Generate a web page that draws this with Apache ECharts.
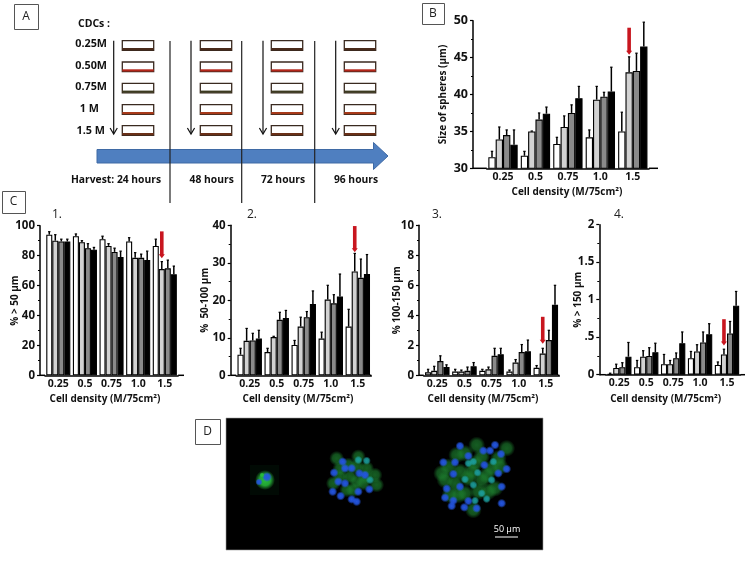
<!DOCTYPE html>
<html>
<head>
<meta charset="utf-8">
<style>html,body{margin:0;padding:0;background:#fff}#c{width:750px;height:563px}</style>
<script src="https://cdn.jsdelivr.net/npm/echarts@6/dist/echarts.min.js"></script>
</head>
<body>
<div id="c"></div>
<script>
// ---------- data ----------
const densities = ['0.25', '0.5', '0.75', '1.0', '1.5'];
const xTitle = 'Cell density (M/75cm²)';
const harvestLabels = ['Harvest: 24 hours', '48 hours', '72 hours', '96 hours'];
const doseLabels = ['0.25M', '0.50M', '0.75M', '1 M', '1.5 M'];
const seriesNames = ['24 hours', '48 hours', '72 hours', '96 hours'];

// rows = density, columns = 24 / 48 / 72 / 96 h
const sizeMeans = [[31.5,33.9,34.5,33.2],[31.7,35.0,36.6,37.4],[33.3,35.6,37.5,39.5],[34.2,39.3,39.7,40.4],[35.0,43.0,43.2,46.5]];
const sizeTops  = [[32.3,35.6,35.2,35.2],[32.3,35.05,37.5,38.3],[34.2,37.1,38.6,41.1],[35.2,41.1,40.3,43.7],[37.6,45.1,45.6,49.8]];
const over50Means = [[94,90,89.5,89.5],[93,89,85,84],[91,86.5,82.5,79],[89.5,78.5,78.5,77],[86.5,71,71.5,67.5]];
const over50Tops  = [[96,94,91,91],[94.5,90,88,85.5],[93,88,85,83],[92,82,81,83],[91,76,77,73]];
const mid50Means = [[5.5,9.2,9.3,9.8],[6.2,10.2,14.8,15.3],[8.1,13,15.5,19],[9.8,20.2,19.2,21],[13,27.7,26,27]];
const mid50Tops  = [[7.2,12.5,11.2,12],[7.2,10.4,16.8,17.3],[9.3,15.5,17,22.5],[11.5,24,21.5,27],[17.6,32.5,31,32.2]];
const mid100Means = [[0.2,0.3,0.95,0.55],[0.25,0.25,0.3,0.6],[0.3,0.4,1.3,1.4],[0.25,0.85,1.55,1.6],[0.5,1.45,2.35,4.7]];
const mid100Tops  = [[0.4,0.6,1.3,0.7],[0.4,0.35,0.55,0.85],[0.4,0.55,1.8,1.8],[0.35,1.05,2.05,2.35],[0.65,1.8,3,6]];
const over150Means = [[0.01,0.09,0.1,0.24],[0.1,0.24,0.25,0.3],[0.14,0.14,0.22,0.42],[0.22,0.31,0.43,0.54],[0.13,0.27,0.55,0.92]];
const over150Tops  = [[0.02,0.14,0.16,0.43],[0.19,0.32,0.36,0.42],[0.27,0.19,0.29,0.57],[0.31,0.4,0.57,0.68],[0.17,0.34,0.71,1.11]];
// red arrows: [tail value, tip value]
const sizeArrow = [49.05,45.4], over50Arrow = [96.2,78.2], mid50Arrow = [39.8,32.8], mid100Arrow = [3.9,2.1], over150Arrow = [0.74,0.39];

// ---------- layout ----------
const FONT = '"Open Sans", Lato, sans-serif';
const barFills = ['#ffffff', '#d2d2d2', '#8a8a8a', '#000000'];
const panels = [
 {id:'B', means:sizeMeans, tops:sizeTops, arrow:sizeArrow, y:'Size of spheres (µm)', min:30, max:50, major:5, left:473, right:658, top:20.7, bottom:168.3, c0:503, c4:632.8, nameGap:25, titleX:567},
 {id:'C1', means:over50Means, tops:over50Tops, arrow:over50Arrow, y:'% > 50 µm', min:0, max:100, major:20, left:40, right:184, top:225.7, bottom:375.3, c0:58.3, c4:164.8, nameGap:20, titleX:105},
 {id:'C2', means:mid50Means, tops:mid50Tops, arrow:mid50Arrow, y:'%  50-100 µm', min:0, max:40, major:10, left:230.7, right:370, top:225.3, bottom:375.3, c0:249.7, c4:357.8, nameGap:21, titleX:298},
 {id:'C3', means:mid100Means, tops:mid100Tops, arrow:mid100Arrow, y:'% 100-150 µm', min:0, max:10, major:2, left:419, right:558, top:225.3, bottom:375.3, c0:437.3, c4:545.8, nameGap:17, titleX:483},
 {id:'C4', means:over150Means, tops:over150Tops, arrow:over150Arrow, y:'% > 150 µm', min:0, max:2, major:0.5, left:599.3, right:745, top:224.7, bottom:374.7, c0:619.3, c4:727, nameGap:16, titleX:665.7, dot:true}
];
const barFrac = 0.226;
const grids = [], xAxes = [], yAxes = [], series = [];
const G = [];
const ln = (x1,y1,x2,y2,stroke,w,z) => G.push({type:'line', z:z||10, shape:{x1,y1,x2,y2}, style:{stroke,lineWidth:w}});
panels.forEach((p, k) => {
  const unit = (p.c4 - p.c0) / 4, bw = unit * barFrac;
  const gl = p.c0 - unit/2, gr = p.c4 + unit/2;
  grids.push({left:gl, top:p.top, width:gr - gl, height:p.bottom - p.top, containLabel:false});
  xAxes.push({gridIndex:k, type:'category', data:densities, splitLine:{show:false},
    axisLine:{show:true, onZero:false, lineStyle:{color:'#000', width:1.5}},
    axisTick:{show:false},
    axisLabel:{color:'#111', interval:0, fontFamily:FONT, fontWeight:'bold', fontSize:10.5, margin:3},
    name:xTitle, nameLocation:'middle', nameGap:19, nameMoveOverlap:false,
    nameTextStyle:{color:'#111', fontFamily:FONT, fontWeight:'bold', fontSize:10,
      padding:[0,Math.max(0,2*((gl+gr)/2-p.titleX)),0,0]}});
  // baseline runs past the first and last band, as in the figure
  ln(p.left,p.bottom,gl,p.bottom,'#000',1.5,3);
  ln(gr,p.bottom,p.right,p.bottom,'#000',1.5,3);
  yAxes.push({gridIndex:k, type:'value', min:p.min, max:p.max, interval:p.major, offset:gl-p.left, splitLine:{show:false},
    axisLine:{show:true, onZero:false, lineStyle:{color:'#000', width:1.5}},
    axisTick:{show:true, length:3, lineStyle:{color:'#000', width:1.2}},
    minorTick:{show:true, splitNumber:2, length:2, lineStyle:{color:'#000', width:1}},
    axisLabel:{color:'#111', fontFamily:FONT, fontWeight:'bold', fontSize:p.id==='B'?12.5:11.5, margin:5,
      formatter:v => p.dot ? String(v).replace(/^0\./,'.') : String(v)},
    name:p.y, nameLocation:'middle', nameGap:p.nameGap, nameMoveOverlap:false,
    nameTextStyle:{color:'#111', fontFamily:FONT, fontWeight:'bold', fontSize:10}});
  // bars
  barFills.forEach((fill, s) => {
    series.push({type:'bar', name:seriesNames[s], xAxisIndex:k, yAxisIndex:k, barWidth:bw, barGap:'0%', z:3,
      itemStyle:{color:fill, borderColor:'#000', borderWidth:1.1}, animation:false, silent:true,
      data:p.means.map(row=>row[s])});
  });
  // error whiskers (upper only)
  const err = [];
  p.means.forEach((row,i)=>row.forEach((v,s)=>err.push([i, v, p.tops[i][s], s])));
  series.push({type:'custom', xAxisIndex:k, yAxisIndex:k, z:2, silent:true, animation:false, data:err, encode:{x:0,y:[1,2]},
    renderItem:(params,api)=>{
      const off = (api.value(3) - 1.5) * bw;
      const a = api.coord([api.value(0),api.value(1)]), b = api.coord([api.value(0),api.value(2)]);
      const x = a[0] + off;
      return {type:'group', children:[
        {type:'line', shape:{x1:x,y1:a[1],x2:x,y2:b[1]}, style:{stroke:'#000',lineWidth:1.5}},
        {type:'line', shape:{x1:x-1.2,y1:b[1],x2:x+1.2,y2:b[1]}, style:{stroke:'#000',lineWidth:1.2}}
      ]};
    }});
  // red arrow above the 48 h bar at the highest density
  series.push({type:'custom', xAxisIndex:k, yAxisIndex:k, z:6, silent:true, animation:false, clip:false,
    data:[[4, p.arrow[0], p.arrow[1]]], encode:{x:0,y:[1,2]},
    renderItem:(params,api)=>{
      const a = api.coord([api.value(0),api.value(1)]), b = api.coord([api.value(0),api.value(2)]);
      const x = a[0] - 0.5 * bw;
      return {type:'group', children:[
        {type:'line', shape:{x1:x,y1:a[1],x2:x,y2:b[1]-3}, style:{stroke:'#c8161f',lineWidth:3.6}},
        {type:'polygon', shape:{points:[[x-3,b[1]-4],[x+3,b[1]-4],[x,b[1]]]}, style:{fill:'#c8161f'}}
      ]};
    }});
});

// ---------- schematic (panel A) and micrograph (panel D) ----------
const txt = (t,x,y,o={}) => G.push({type:'text', z:o.z||20, style:{text:t,x,y,fill:o.fill||'#111',
  font:(o.weight||'bold')+' '+(o.size||10.3)+'px '+FONT, textAlign:o.align||'center', textVerticalAlign:'middle'}});
const box = (t,x,y,w,h) => {
  G.push({type:'rect', z:10, shape:{x:x+.5,y:y+.5,width:w,height:h}, style:{fill:'#fff',stroke:'#555',lineWidth:1}});
  txt(t,x+w/2,y+h/2,{weight:'normal',size:12,fill:'#222'});
};
box('A',14,4,24,25); box('B',422,3,22,21); box('C',2,191,23,22); box('D',195,419,25,25);
[['1.',57],['2.',252],['3.',437],['4.',619]].forEach(([t,x])=>txt(t,x,215,{weight:'normal',size:12,fill:'#222'}));

txt('CDCs :',94,24.5,{size:10.5});
const doseY = [43.5,65.5,87,109,131];
doseLabels.forEach((t,i)=>txt(t,i<3?107:(i===3?99:105),doseY[i],{size:10.8,align:'right'}));
const colX = [122.3,200.3,271.3,344.3], rowY = [40.7,62,83.3,104.7,125.7];
const stripe = ['#4a2a1a','#b4261a','#3d3a20','#a83a1a','#6a3018'];
colX.forEach(x=>rowY.forEach((y,r)=>{
  G.push({type:'rect', z:11, shape:{x,y,width:31.4,height:9.6}, style:{fill:'#fff',stroke:'#3a2a20',lineWidth:1.3}});
  ln(x,y+8.4,x+31.4,y+8.4,stripe[r],2.2,12);
}));
[113.7,191,263,335.7].forEach(x=>{
  ln(x,40.7,x,133.5,'#111',1.2);
  G.push({type:'polyline', z:10, shape:{points:[[x-3.6,128],[x,134],[x+3.6,128]]}, style:{stroke:'#111',lineWidth:1.2,fill:null}});
});
G.push({type:'polygon', z:5, shape:{points:[[97,149.5],[373.5,149.5],[373.5,142.5],[388,156],[373.5,169.5],[373.5,163],[97,163]]},
  style:{fill:'#4f7fc0',stroke:'#3f6aa5',lineWidth:1}});
[170,241.7,314.7].forEach(x=>ln(x,41,x,203,'#222',1.2,8));
[116,211.7,283,356].forEach((x,i)=>txt(harvestLabels[i],x,180));

// micrograph
G.push({type:'rect', z:4, shape:{x:226,y:418,width:317,height:132}, style:{fill:'#000',stroke:'#9a9a9a',lineWidth:.6}});
G.push({type:'rect', z:5, shape:{x:250,y:465,width:29,height:30}, style:{fill:'#010a04'}});
const blob = (x,y,r,rgb,op) => G.push({type:'circle', z:6, shape:{cx:x,cy:y,r},
  style:{fill:new echarts.graphic.RadialGradient(.5,.5,.5,[
    {offset:0,color:`rgba(${rgb},${op})`},{offset:.55,color:`rgba(${rgb},${op*.85})`},{offset:1,color:`rgba(${rgb},0)`}])}});
const GREEN='30,130,48', BLUE='35,85,225', TEAL='28,160,160', BRIGHT='40,190,60';
const s2Green = [[50,55],[115,50],[90,110],[130,130],[60,110],[100,150],[165,105],[80,150],[140,85],[170,135],[110,80],[60,85],[40,130],[85,75],[135,110],[110,125]];
const s2Blue = [[68,65],[42,98],[75,85],[95,85],[118,100],[135,105],[115,155],[148,148],[75,130],[38,155],[62,168],[95,178],[110,185],[55,125]];
const s2Teal = [[150,120],[115,60],[140,62]];
const s3Green = [[155,45],[245,55],[120,70],[70,110],[50,130],[170,150],[105,125],[150,100],[210,175],[100,195],[160,185],[200,115],[90,160],[190,185],[60,150],[145,240],[220,85],[130,145],[170,80],[120,190],[95,75],[140,125],[185,135],[225,110],[75,195]];
const s3Blue = [[105,48],[210,45],[175,62],[195,62],[228,72],[55,97],[90,97],[130,78],[178,105],[85,132],[245,117],[220,130],[65,176],[230,170],[60,203],[85,212],[130,213],[80,228],[118,232],[155,235],[230,220],[105,170]];
const s3Teal = [[130,100],[145,95],[205,95],[158,128],[120,148],[200,150],[145,165],[185,207],[150,212],[170,190]];
s2Green.forEach(([x,y])=>blob(320+x/3,440+y/3,7.5,GREEN,.72));
s2Teal.forEach(([x,y])=>blob(320+x/3,440+y/3,4.2,TEAL,.95));
s2Blue.forEach(([x,y])=>blob(320+x/3,440+y/3,4.6,BLUE,1));
s3Green.forEach(([x,y])=>blob(425+x/3,430+y/3,8.5,GREEN,.72));
s3Teal.forEach(([x,y])=>blob(425+x/3,430+y/3,4.2,TEAL,.95));
s3Blue.forEach(([x,y])=>blob(425+x/3,430+y/3,4.6,BLUE,1));
blob(265,480,10,BRIGHT,1);
blob(267,477,5,BLUE,1); blob(259,482,3.6,BLUE,1); blob(262,475,2.5,BRIGHT,1);
txt('50 µm',507,529,{weight:'normal',size:9,fill:'#fff'});
ln(495,537,518,537,'#fff',1,20);

const chart = echarts.init(document.getElementById('c'), null, {renderer:'canvas'});
chart.setOption({animation:false, backgroundColor:'#fff', grid:grids, xAxis:xAxes, yAxis:yAxes, series, graphic:{elements:G}});
</script>
</body>
</html>
